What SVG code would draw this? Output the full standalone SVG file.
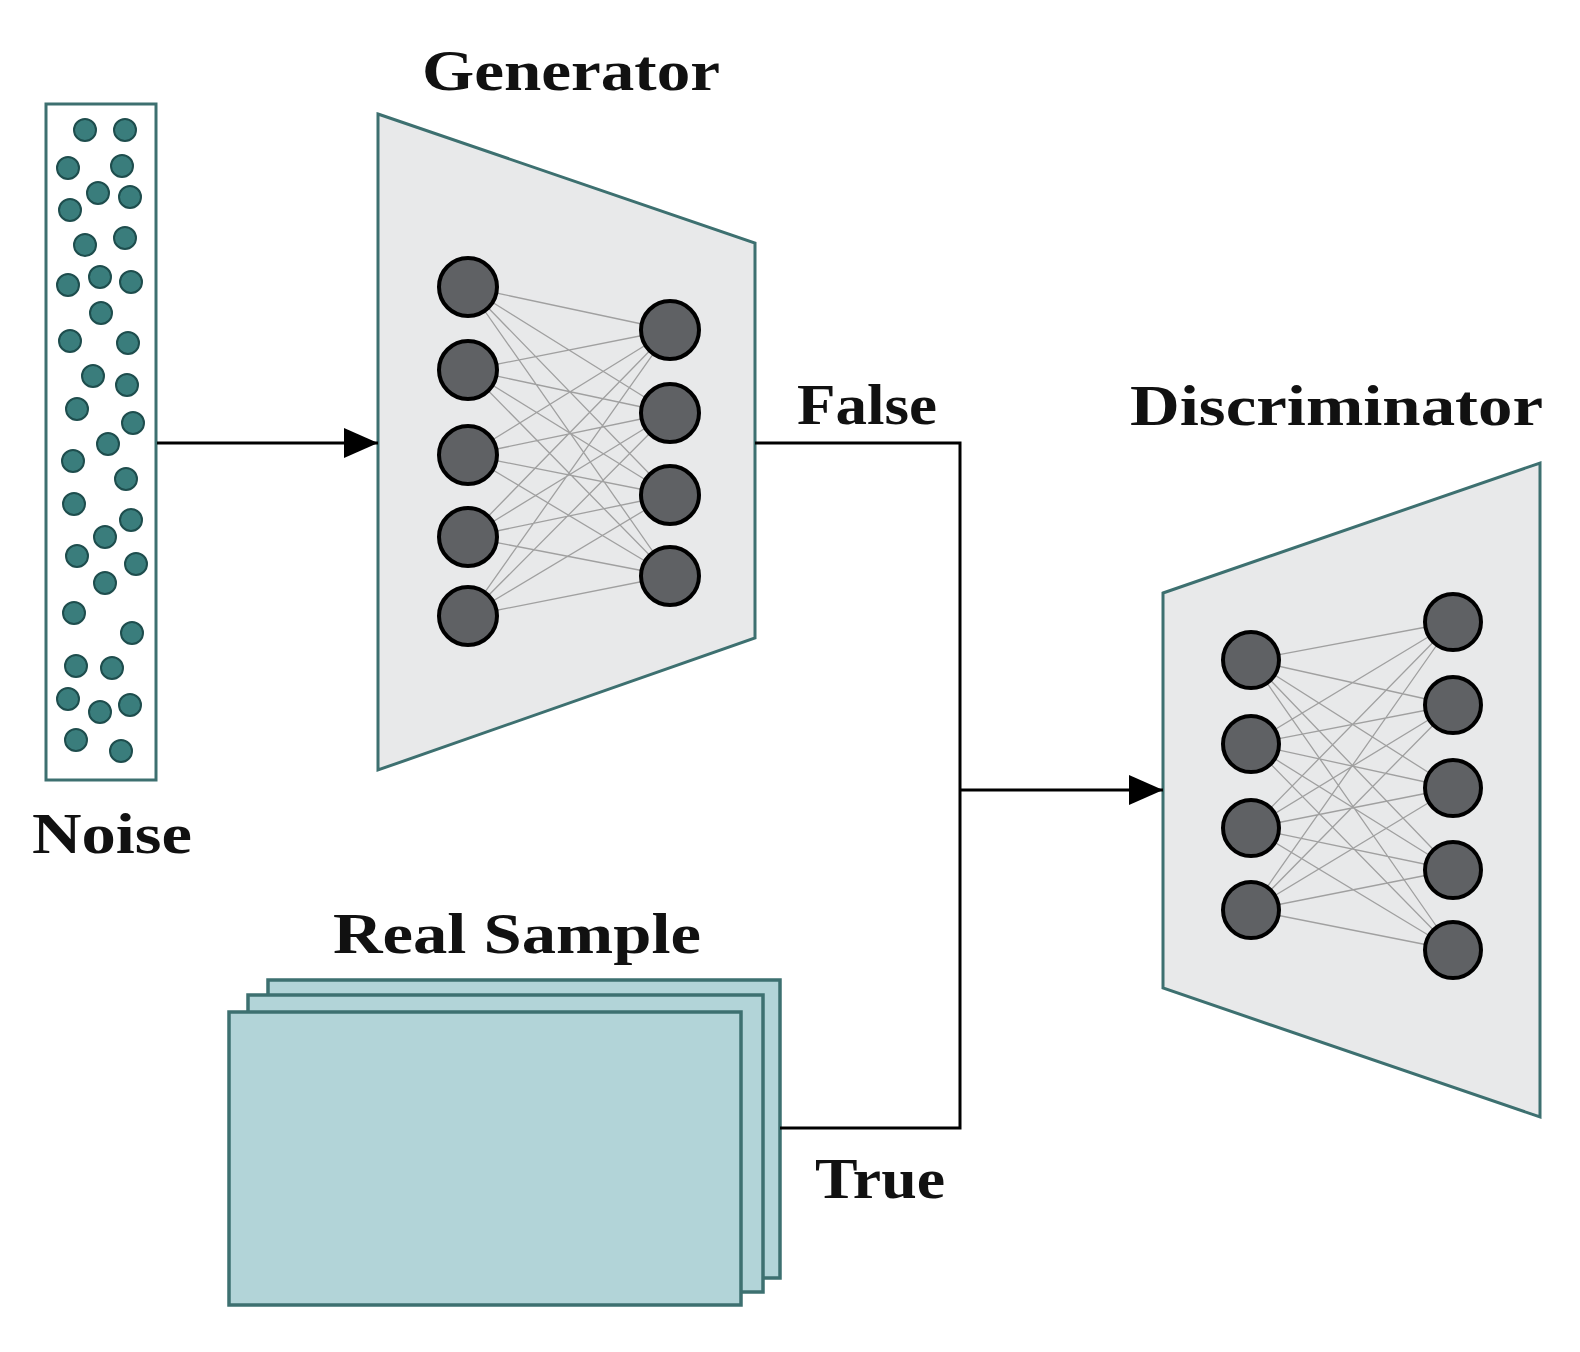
<svg xmlns="http://www.w3.org/2000/svg" width="1580" height="1352" viewBox="0 0 1580 1352">
<defs>
<style>
.t{font-family:"Liberation Serif",serif;font-weight:bold;font-size:58px;fill:#111}
.dot{fill:#3a7d7c;stroke:#1e4d4d;stroke-width:2}
.n{fill:#5f6164;stroke:#000;stroke-width:4}
.e{stroke:#a0a0a0;stroke-width:1.3}
.trap{fill:#e8e9ea;stroke:#3d7070;stroke-width:3}
.rs{fill:#b2d4d8;stroke:#3d7070;stroke-width:3.5}
.c{fill:none;stroke:#000;stroke-width:3}
</style>
<marker id="ah" markerWidth="34" markerHeight="30" refX="34" refY="15" orient="auto" markerUnits="userSpaceOnUse" viewBox="0 0 34 30"><path d="M0,0L34,15L0,30z" fill="#000"/></marker>
</defs>
<rect width="1580" height="1352" fill="#fff"/>
<g id="noise">
<rect x="46" y="104" width="110" height="676" fill="#fff" stroke="#3d7070" stroke-width="3"/>
<g>
<circle class="dot" cx="85" cy="130" r="11"/><circle class="dot" cx="125" cy="130" r="11"/><circle class="dot" cx="68" cy="168" r="11"/><circle class="dot" cx="122" cy="166" r="11"/><circle class="dot" cx="98" cy="193" r="11"/><circle class="dot" cx="130" cy="197" r="11"/><circle class="dot" cx="70" cy="210" r="11"/><circle class="dot" cx="85" cy="245" r="11"/><circle class="dot" cx="125" cy="238" r="11"/><circle class="dot" cx="68" cy="285" r="11"/><circle class="dot" cx="100" cy="277" r="11"/><circle class="dot" cx="131" cy="282" r="11"/><circle class="dot" cx="101" cy="313" r="11"/><circle class="dot" cx="70" cy="341" r="11"/><circle class="dot" cx="128" cy="343" r="11"/><circle class="dot" cx="93" cy="376" r="11"/><circle class="dot" cx="127" cy="385" r="11"/><circle class="dot" cx="77" cy="409" r="11"/><circle class="dot" cx="133" cy="423" r="11"/><circle class="dot" cx="108" cy="444" r="11"/><circle class="dot" cx="73" cy="461" r="11"/><circle class="dot" cx="126" cy="479" r="11"/><circle class="dot" cx="74" cy="504" r="11"/><circle class="dot" cx="131" cy="520" r="11"/><circle class="dot" cx="105" cy="537" r="11"/><circle class="dot" cx="77" cy="556" r="11"/><circle class="dot" cx="136" cy="564" r="11"/><circle class="dot" cx="105" cy="583" r="11"/><circle class="dot" cx="74" cy="613" r="11"/><circle class="dot" cx="132" cy="633" r="11"/><circle class="dot" cx="76" cy="666" r="11"/><circle class="dot" cx="112" cy="668" r="11"/><circle class="dot" cx="68" cy="699" r="11"/><circle class="dot" cx="100" cy="712" r="11"/><circle class="dot" cx="130" cy="705" r="11"/><circle class="dot" cx="76" cy="740" r="11"/><circle class="dot" cx="121" cy="751" r="11"/>
</g>
<text class="t" x="32" y="853" textLength="160" lengthAdjust="spacingAndGlyphs">Noise</text>
</g>
<g id="generator">
<polygon class="trap" points="378,114 755,243 755,638 378,770"/>
<path class="e" d="M468,287L670,330M468,287L670,413M468,287L670,495M468,287L670,576M468,370L670,330M468,370L670,413M468,370L670,495M468,370L670,576M468,455L670,330M468,455L670,413M468,455L670,495M468,455L670,576M468,537L670,330M468,537L670,413M468,537L670,495M468,537L670,576M468,616L670,330M468,616L670,413M468,616L670,495M468,616L670,576"/>
<circle class="n" cx="468" cy="287" r="29"/><circle class="n" cx="468" cy="370" r="29"/><circle class="n" cx="468" cy="455" r="29"/><circle class="n" cx="468" cy="537" r="29"/><circle class="n" cx="468" cy="616" r="29"/>
<circle class="n" cx="670" cy="330" r="29"/><circle class="n" cx="670" cy="413" r="29"/><circle class="n" cx="670" cy="495" r="29"/><circle class="n" cx="670" cy="576" r="29"/>
<text class="t" x="422" y="90" textLength="298" lengthAdjust="spacingAndGlyphs">Generator</text>
</g>
<g id="discriminator">
<polygon class="trap" points="1163,593 1540,463 1540,1117 1163,988"/>
<path class="e" d="M1251,660L1453,622M1251,660L1453,705M1251,660L1453,788M1251,660L1453,870M1251,660L1453,950M1251,744L1453,622M1251,744L1453,705M1251,744L1453,788M1251,744L1453,870M1251,744L1453,950M1251,828L1453,622M1251,828L1453,705M1251,828L1453,788M1251,828L1453,870M1251,828L1453,950M1251,910L1453,622M1251,910L1453,705M1251,910L1453,788M1251,910L1453,870M1251,910L1453,950"/>
<circle class="n" cx="1251" cy="660" r="28"/><circle class="n" cx="1251" cy="744" r="28"/><circle class="n" cx="1251" cy="828" r="28"/><circle class="n" cx="1251" cy="910" r="28"/>
<circle class="n" cx="1453" cy="622" r="28"/><circle class="n" cx="1453" cy="705" r="28"/><circle class="n" cx="1453" cy="788" r="28"/><circle class="n" cx="1453" cy="870" r="28"/><circle class="n" cx="1453" cy="950" r="28"/>
<text class="t" x="1130" y="425" textLength="413" lengthAdjust="spacingAndGlyphs">Discriminator</text>
</g>
<g id="real-sample">
<rect class="rs" x="268" y="980" width="512" height="298"/>
<rect class="rs" x="248" y="995" width="515" height="297"/>
<rect class="rs" x="229" y="1012" width="512" height="293"/>
<text class="t" x="333" y="953" textLength="368" lengthAdjust="spacingAndGlyphs">Real Sample</text>
</g>
<g id="connectors">
<path class="c" d="M157,443H378" marker-end="url(#ah)"/>
<path class="c" d="M755,443H960V1128H780"/>
<path class="c" d="M960,790H1163" marker-end="url(#ah)" stroke-width="4"/>
<text class="t" x="797" y="424" textLength="140" lengthAdjust="spacingAndGlyphs">False</text>
<text class="t" x="815" y="1198" textLength="130" lengthAdjust="spacingAndGlyphs">True</text>
</g>
</svg>
